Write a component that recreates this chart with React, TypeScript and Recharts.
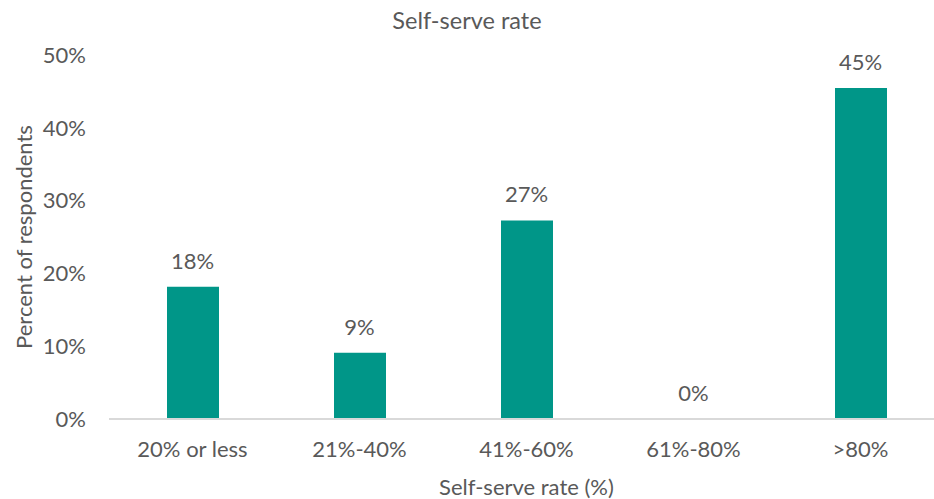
import { ComposedChart, Bar, Line, XAxis, YAxis, LabelList } from 'recharts'

// survey: share of respondents per self-serve rate bucket (n = 11)
const categories = ['20% or less', '21%-40%', '41%-60%', '61%-80%', '>80%']
const shares = [18.18, 9.09, 27.27, 0, 45.45]
const yTicks = [0, 10, 20, 30, 40, 50]

const data = categories.map((name, i) => ({ name, share: shares[i] }))

const FONT = 'Lato, "Open Sans", sans-serif'
const TEXT = '#595959'
const SIZE = 22

export default function App() {
  return (
    <div style={{ position: 'absolute', left: 0, top: 0, width: 934, height: 499, overflow: 'hidden', background: '#fff', fontFamily: FONT }}>
      <div style={{ position: 'absolute', top: 6, left: 0, width: 934, textAlign: 'center', fontSize: 23.5, color: TEXT }}>
        Self-serve rate
      </div>
      <ComposedChart
        width={944}
        height={499}
        data={data}
        margin={{ top: 55, right: 0, bottom: 0, left: 0 }}
      >
        <XAxis
          dataKey="name"
          height={80}
          axisLine={{ stroke: '#d9d9d9', strokeWidth: 2 }}
          tickLine={false}
          tickSize={0}
          tickMargin={22}
          tick={{ fill: TEXT, fontSize: SIZE, fontFamily: FONT }}
          label={{ value: 'Self-serve rate (%)', position: 'insideBottom', offset: 4, fill: TEXT, fontSize: SIZE, fontFamily: FONT }}
        />
        <YAxis
          width={109}
          domain={[0, 50]}
          ticks={yTicks}
          tickFormatter={(v) => `${v}%`}
          axisLine={false}
          tickLine={false}
          tickSize={0}
          tickMargin={23}
          tick={{ fill: TEXT, fontSize: SIZE, fontFamily: FONT }}
          label={{ value: 'Percent of respondents', angle: -90, position: 'insideLeft', offset: 24, fill: TEXT, fontSize: SIZE, fontFamily: FONT, style: { textAnchor: 'middle' } }}
        />
        <Bar dataKey="share" fill="#009688" barSize={52} isAnimationActive={false} />
        {/* invisible line carries the value labels so the 0% bucket still gets one */}
        <Line dataKey="share" stroke="none" dot={false} activeDot={false} isAnimationActive={false}>
          <LabelList
            dataKey="share"
            position="top"
            offset={18}
            formatter={(v: number) => `${Math.round(v)}%`}
            style={{ fill: TEXT, fontSize: SIZE, fontFamily: FONT }}
          />
        </Line>
      </ComposedChart>
    </div>
  )
}
